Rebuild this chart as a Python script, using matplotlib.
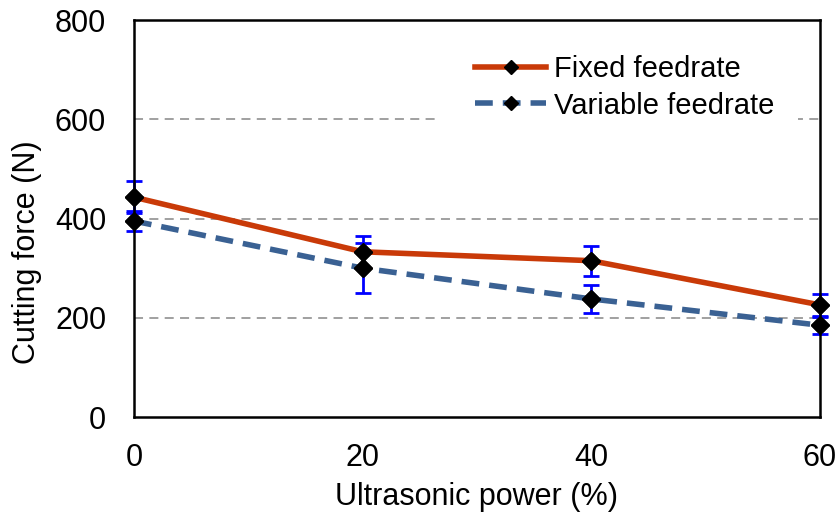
import matplotlib
matplotlib.use("Agg")
import matplotlib.pyplot as plt
from matplotlib.patches import Rectangle

plt.rcParams['font.family'] = ['Liberation Sans', 'DejaVu Sans']

power = [0, 20, 40, 60]
fixed = [443, 333, 315, 226]
fixed_err = [32, 32, 30, 22]
variable = [395, 300, 238, 185]
variable_err = [20, 50, 28, 17]
x_ticks = [0, 20, 40, 60]
y_ticks = [0, 200, 400, 600, 800]

fig = plt.figure(figsize=(8.4, 5.2), dpi=100)
ax = fig.add_axes([0.1595, 0.198, 0.8165, 0.7635])

for y in [200, 400, 600]:
    ax.axhline(y, color='#999999', lw=1.3, ls=(0, (5, 3.5)), zorder=1)
# white background behind legend (breaks the 600 gridline)
ax.add_patch(Rectangle((0.446, 0.70), 0.522, 0.08, transform=ax.transAxes,
                       facecolor='white', edgecolor='none', zorder=1.5))

ms = 9
ax.plot(power, fixed, color='#C93A08', lw=4.0, zorder=2, label='Fixed feedrate',
        marker='D', markersize=ms, markerfacecolor='black', markeredgecolor='black',
        clip_on=False)
ax.plot(power, variable, color='#3A6193', lw=4.0, ls=(0, (3.2, 1.8)), zorder=2,
        label='Variable feedrate',
        marker='D', markersize=ms, markerfacecolor='black', markeredgecolor='black',
        clip_on=False)

for vals, errs in [(fixed, fixed_err), (variable, variable_err)]:
    eb = ax.errorbar(power, vals, yerr=errs, fmt='none', ecolor='#0000FF', elinewidth=2.0,
                     capsize=6, capthick=2.0, zorder=3)
    for c in eb.lines[1]:
        c.set_clip_on(False)
    for c in eb.lines[2]:
        c.set_clip_on(False)
ax.plot(power, fixed, ls='none', marker='D', markersize=ms, color='black', zorder=4, clip_on=False)
ax.plot(power, variable, ls='none', marker='D', markersize=ms, color='black', zorder=4, clip_on=False)

ax.set_xlim(0, 60)
ax.set_ylim(0, 800)
ax.set_xticks(x_ticks)
ax.set_yticks(y_ticks)
ax.tick_params(length=0, labelsize=22)
ax.tick_params(axis='x', pad=19)
ax.tick_params(axis='y', pad=20)
for s in ax.spines.values():
    s.set_linewidth(1.8)
    s.set_color('black')
    s.set_zorder(5)

ax.set_xlabel('Ultrasonic power (%)', fontsize=22, labelpad=6)
ax.set_ylabel('Cutting force (N)', fontsize=22)
ax.yaxis.set_label_coords(-0.134, 0.416)

leg = ax.legend(loc='upper left', bbox_to_anchor=(0.497, 0.912), fontsize=21, frameon=False,
                handlelength=2.45, borderaxespad=0, borderpad=0, labelspacing=0.3,
                handletextpad=0.28, markerscale=0.83)

fig.savefig('out.png', dpi=100)
